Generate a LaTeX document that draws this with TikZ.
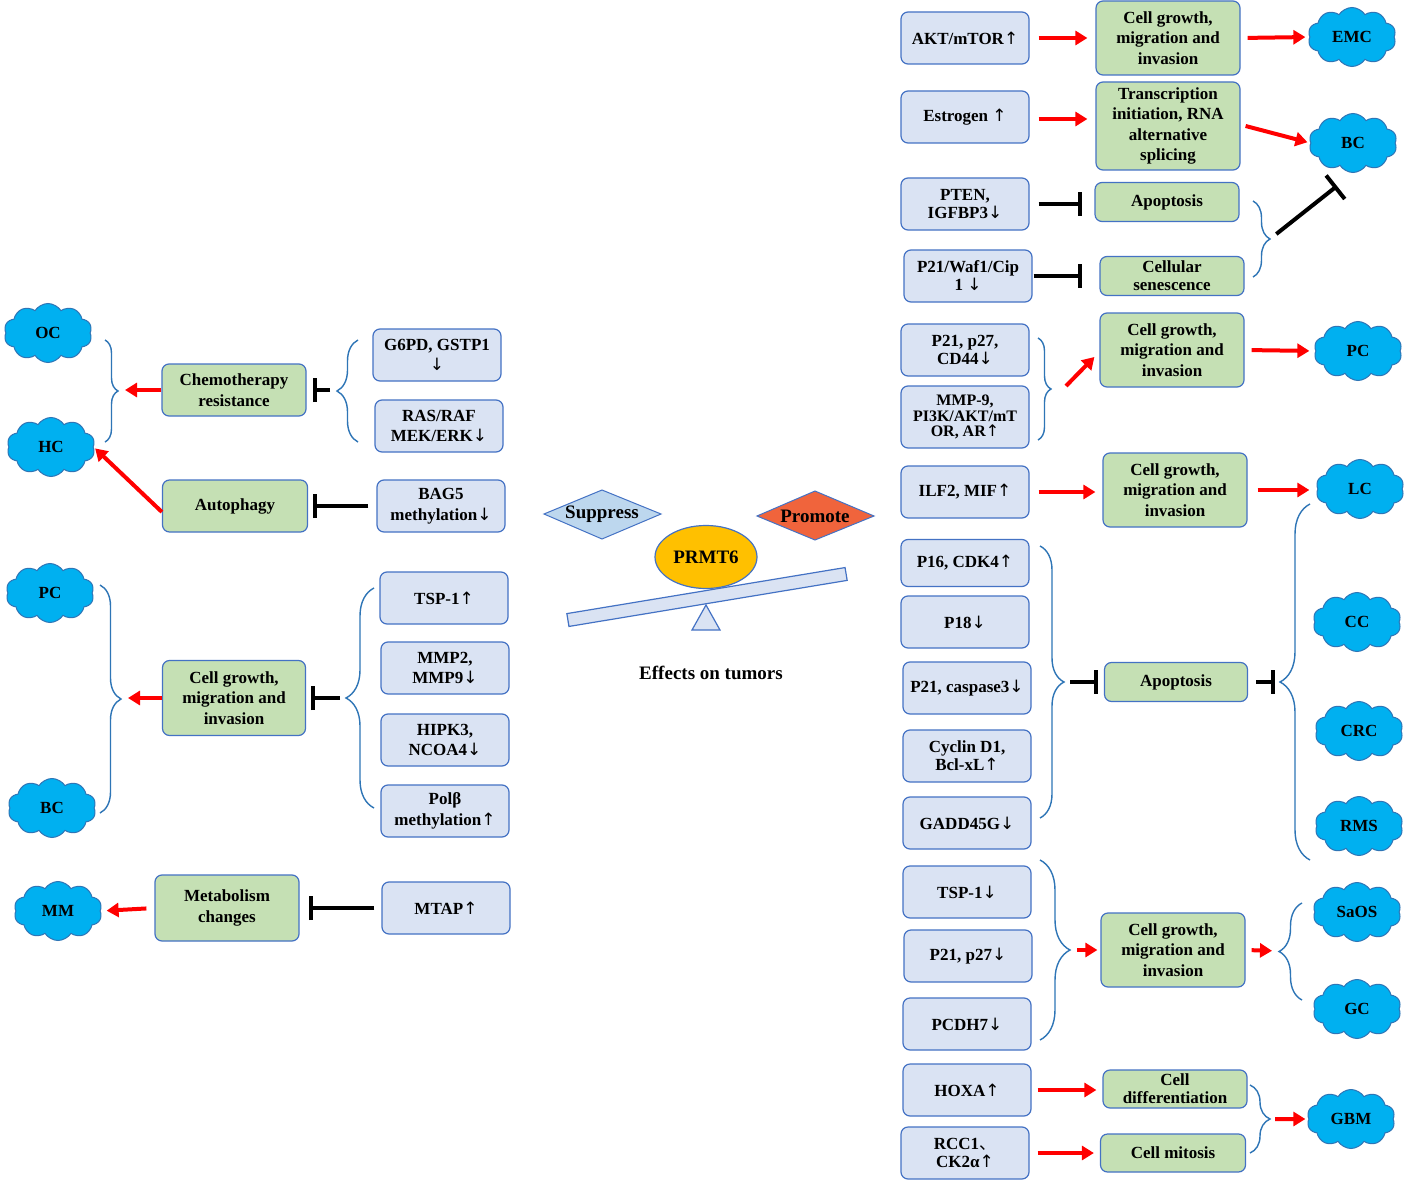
\documentclass[tikz,border=0pt]{standalone}
\usepackage{fontspec}
\setmainfont{Liberation Serif}
\newfontfamily\cjkf{Noto Sans CJK SC}
\newfontfamily\arrf{DejaVu Sans}
\usetikzlibrary{shapes.geometric,shapes.symbols,arrows.meta,decorations.pathreplacing,calc}
\definecolor{lbl}{HTML}{DAE3F3}
\definecolor{bordc}{HTML}{4472C4}
\definecolor{grn}{HTML}{C5E0B4}
\definecolor{cyanc}{HTML}{00B0F0}
\definecolor{cldc}{HTML}{2E75B6}
\definecolor{brcc}{HTML}{2E75B6}
\definecolor{supc}{HTML}{BDD7EE}
\definecolor{proc}{HTML}{F0643C}
\definecolor{prmc}{HTML}{FFC000}
\definecolor{redc}{HTML}{FF0000}
\newcommand\txt{\fontsize{17}{20.5}\selectfont\bfseries}
\newcommand\txts{\fontsize{17}{18}\selectfont\bfseries}
\newcommand\txtt{\fontsize{16}{15.5}\selectfont\bfseries}
\newcommand\bigtxt{\fontsize{19}{22}\selectfont\bfseries}
\newcommand\ua{{\arrf\mdseries ↑}}
\newcommand\da{{\arrf\mdseries ↓}}
\begin{document}
\begin{tikzpicture}[x=1pt,y=-1pt,
  fbox/.style={draw=bordc, line width=1.2pt, rounded corners=7pt, fill=lbl, align=center, font=\txt, inner sep=1pt, minimum width=128pt, minimum height=52pt},
  gbox/.style={fbox, fill=grn},
  cl/.style={cloud, cloud puffs=10, cloud puff arc=115, aspect=1.5, draw=cldc, fill=cyanc, line width=1pt, font=\txt, inner sep=0pt, minimum width=88pt, minimum height=59pt},
  act/.style={draw=redc, line width=4pt, -{Triangle[length=12pt,width=14pt]}},
  inh/.style={draw=black, line width=4pt, -{Bar[width=24pt]}},
  brc/.style={draw=brcc, line width=1.4pt, decorate, decoration={brace, amplitude=#1}},
  beamst/.style={rectangle, minimum width=282pt, minimum height=13pt, fill=lbl, draw=bordc, line width=1.2pt, inner sep=0pt}
]
\useasboundingbox (0,0) rectangle (1406,1180);
\fill[white] (0,0) rectangle (1406,1180);

% ---------------- left side ----------------
\node[cl] (oc) at (48,333) {OC};
\node[cl] (hc) at (51,447) {HC};
\node[gbox, minimum width=144pt] (chemo) at (234,390) {Chemotherapy\\resistance};
\node[fbox] (g6pd) at (437,355) {G6PD, GSTP1\\\da};
\node[fbox] (ras) at (439,426) {RAS/RAF\\MEK/ERK\da};
\node[gbox, minimum width=145pt] (auto) at (235,506) {Autophagy};
\node[fbox] (bag) at (441,506) {BAG5\\methylation\da};
\coordinate (lb0) at (118,390);
\coordinate (lb1) at (337,390);
\draw[brc=13pt] (105,340) -- (105,442);
\draw[brc=21pt] (358,442) -- (358,340);
\draw[act, shorten >=7pt] (chemo.west) -- (lb0);
\draw[inh, shorten <=7pt, shorten >=6pt] (lb1) -- (chemo.east);
\draw[inh, shorten <=8pt, shorten >=5pt] (bag.west) -- (auto.east);
\draw[act, shorten >=2pt] ($(auto.west)+(0,6)$) -- (hc.east);

\node[cl] (lpc) at (50,593) {PC};
\node[cl] (lbc) at (52,808) {BC};
\node[gbox, minimum width=143pt, minimum height=75pt] (lcg) at (234,698) {Cell growth,\\migration and\\invasion};
\node[fbox] (tsp) at (444,598) {TSP-1\ua};
\node[fbox] (mmp) at (445,668) {\txts MMP2,\\MMP9\da};
\node[fbox] (hipk) at (445,740) {\txts HIPK3,\\NCOA4\da};
\node[fbox] (polb) at (445,811) {\txts Polβ\\methylation\ua};
\coordinate (lb2) at (121,698);
\coordinate (lb3) at (346,698);
\draw[brc=21pt] (100,585) -- (100,813);
\draw[brc=28pt] (374,808) -- (374,588);
\draw[act, shorten >=7pt] (lcg.west) -- (lb2);
\draw[inh, shorten <=6pt, shorten >=5pt] (lb3) -- (lcg.east);

\node[cl] (mm) at (58,911) {MM};
\node[gbox, minimum width=144pt, minimum height=66pt] (meta) at (227,908) {Metabolism\\changes};
\node[fbox] (mtap) at (446,908) {MTAP\ua};
\draw[act, shorten <=8pt, shorten >=6pt] (meta.west) -- (mm.east);
\draw[inh, shorten <=7pt, shorten >=9pt] (mtap.west) -- (meta.east);

% ---------------- centre ----------------
\draw[fill=supc, draw=bordc, line width=1pt] (544,514) -- (602,490) -- (661,514) -- (602,539) -- cycle;
\node[font=\bigtxt] (sup) at (602,514) {Suppress};
\draw[fill=proc, draw=bordc, line width=1pt] (757,516) -- (815,491) -- (874,516) -- (815,540) -- cycle;
\node[font=\bigtxt] (pro) at (815,516) {Promote};
\draw[fill=lbl, draw=bordc, line width=1.2pt] (706,605) -- (720,630) -- (692,630) -- cycle;
\node[beamst, rotate=9.4] (beam) at (707,597) {};
\node[ellipse, minimum width=102pt, minimum height=63pt, inner sep=0pt, fill=prmc, draw=bordc, line width=1.2pt, font=\bigtxt] (prmt) at (706,557) {PRMT6};
\node[font=\bigtxt] (eff) at (711,673) {Effects on tumors};

% ---------------- right side ----------------
\node[fbox] (akt) at (965,38) {AKT/mTOR\ua};
\node[gbox, minimum width=144pt, minimum height=74pt] (cg1) at (1168,38) {Cell growth,\\migration and\\invasion};
\node[cl] (emc) at (1352,37) {EMC};
\draw[act, shorten <=9pt, shorten >=8pt] (akt.east) -- (cg1.west);
\draw[act, shorten <=7pt, shorten >=4pt] (cg1.east) -- (emc.west);

\node[fbox] (estr) at (965,117) {Estrogen \ua};
\node[gbox, minimum width=144pt, minimum height=88pt] (trans) at (1168,126) {Transcription\\initiation, RNA\\alternative\\splicing};
\node[cl] (rbc) at (1353,143) {BC};
\draw[act, shorten <=9pt, shorten >=8pt] ($(estr.east)+(0,2)$) -- ($(estr.east -| trans.west)+(0,2)$);
\draw[act, shorten >=3pt] ($(trans.east)+(5,0)$) -- (rbc.west);

\node[fbox, font=\txts] (pten) at (965,204) {PTEN,\\IGFBP3\da};
\node[gbox, minimum width=144pt, minimum height=39pt] (apop1) at (1167,202) {Apoptosis};
\draw[inh, shorten <=9pt, shorten >=12pt] (pten.east) -- (pten.east -| apop1.west);

\node[fbox, font=\txts] (p21w) at (968,276) {P21/Waf1/Cip\\1 \da};
\node[gbox, minimum width=144pt, minimum height=39pt, font=\txts] (sen) at (1172,276) {Cellular\\senescence};
\draw[inh, shorten <=1pt, shorten >=17pt] (p21w.east) -- (sen.west);
\coordinate (rb1) at (1270,239);
\coordinate (bcinh) at (1337,186);
\draw[brc=17pt] (1253,201) -- (1253,277);
\draw[draw=black, line width=4pt, -{Bar[width=30pt]}, shorten <=8pt] (rb1) -- (bcinh);

\node[fbox, font=\txts] (p21a) at (965,350) {P21, p27,\\CD44\da};
\node[fbox, minimum height=62pt, font=\txtt] (mmp9) at (965,417) {MMP-9,\\PI3K/AKT/mT\\OR, AR\ua};
\coordinate (rb2) at (1051,389);
\draw[brc=13pt] (1038,338) -- (1038,440);
\node[gbox, minimum width=144pt, minimum height=74pt] (cg5) at (1172,350) {Cell growth,\\migration and\\invasion};
\node[cl] (rpc) at (1358,351) {PC};
\draw[act] ($(rb2)+(15,-3)$) -- ($(cg5.west)+(-5,7)$);
\draw[act, shorten <=7pt, shorten >=6pt] (cg5.east) -- (rpc.west);

\node[fbox] (ilf) at (965,492) {ILF2, MIF\ua};
\node[gbox, minimum width=144pt, minimum height=74pt] (cg6) at (1175,490) {Cell growth,\\migration and\\invasion};
\node[cl] (lc) at (1360,489) {LC};
\draw[act, shorten <=9pt, shorten >=7pt] (ilf.east) -- (ilf.east -| cg6.west);
\draw[act, shorten <=10pt, shorten >=8pt] (cg6.east) -- (cg6.east -| lc.west);

\node[fbox, minimum height=47pt] (p16) at (965,563) {P16, CDK4\ua};
\node[fbox] (p18) at (965,622) {P18\da};
\node[fbox] (p21c) at (967,688) {P21, caspase3\da};
\node[fbox, font=\txts] (cyc) at (967,756) {Cyclin D1,\\Bcl-xL\ua};
\node[fbox] (gadd) at (967,823) {GADD45G\da};
\coordinate (rb3) at (1064,682);
\draw[brc=24pt] (1040,546) -- (1040,818);
\node[gbox, minimum width=143pt, minimum height=39pt] (apop2) at (1176,682) {Apoptosis};
\coordinate (rb4) at (1280,682);
\draw[brc=30pt] (1310,860) -- (1310,504);
\draw[inh, shorten <=6pt, shorten >=6pt] (rb3) -- (apop2.west);
\draw[inh, shorten <=8pt, shorten >=5pt] (apop2.east) -- (rb4);
\node[cl] (cc) at (1357,622) {CC};
\node[cl] (crc) at (1359,731) {CRC};
\node[cl] (rms) at (1359,826) {RMS};

\node[fbox] (tspd) at (967,892) {TSP-1\da};
\node[fbox] (p21p) at (968,956) {P21, p27\da};
\node[fbox] (pcdh) at (967,1024) {PCDH7\da};
\coordinate (rb5) at (1070,950);
\draw[brc=30pt] (1040,860) -- (1040,1040);
\node[gbox, minimum width=144pt, minimum height=74pt] (cg7) at (1173,950) {Cell growth,\\migration and\\invasion};
\draw[act, shorten <=7pt, shorten >=3pt] (rb5) -- (cg7.west);
\coordinate (rb6) at (1279,951);
\draw[brc=23pt] (1302,1000) -- (1302,903);
\draw[act, shorten <=6pt, shorten >=7pt] (cg7.east) -- (rb6);
\node[cl] (saos) at (1357,912) {SaOS};
\node[cl] (gc) at (1357,1009) {GC};

\node[fbox] (hoxa) at (967,1090) {HOXA\ua};
\node[fbox, font=\txts] (rcc) at (965,1153) {RCC1{\cjkf\mdseries 、}\\CK2α\ua};
\node[gbox, minimum width=144pt, minimum height=38pt, font=\txts] (diff) at (1175,1089) {Cell\\differentiation};
\node[gbox, minimum width=145pt, minimum height=38pt] (mit) at (1173,1153) {Cell mitosis};
\draw[act, shorten <=6pt, shorten >=6pt] (hoxa.east) -- (hoxa.east -| diff.west);
\draw[act, shorten <=8pt, shorten >=6pt] (rcc.east) -- (rcc.east -| mit.west);
\coordinate (rb7) at (1270,1119);
\draw[brc=20pt] (1250,1085) -- (1250,1153);
\node[cl] (gbm) at (1351,1119) {GBM};
\draw[act, shorten <=5pt, shorten >=3pt] (rb7) -- (gbm.west);
\end{tikzpicture}
\end{document}
